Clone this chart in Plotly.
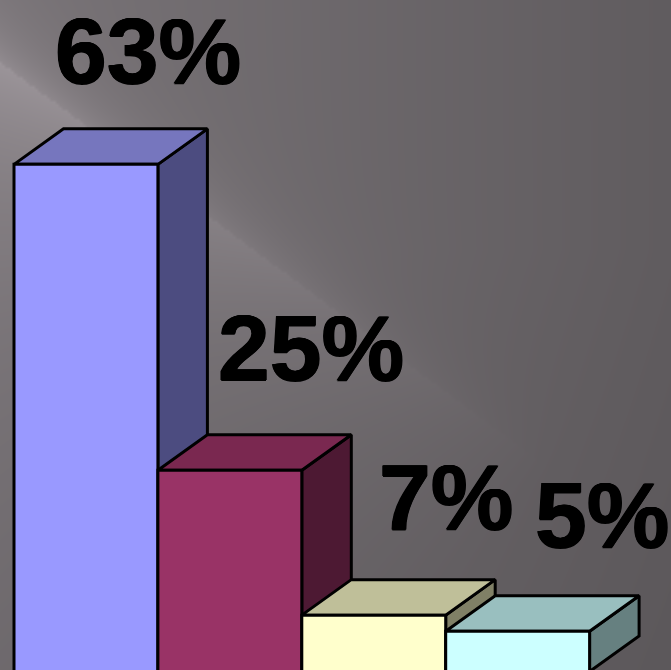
import numpy as np
import plotly.graph_objects as go

# Chart data
values = [63, 25, 7, 5]
labels = [f"{v}%" for v in values]
front_colors = ["#9999FF", "#993366", "#FFFFCC", "#CCFFFF"]
top_colors = ["#7676BE", "#7A2850", "#BFBF99", "#99BFBF"]
side_colors = ["#4C4C80", "#4D1933", "#808066", "#668080"]

W, H = 671, 670
BAR_PX = 143.9     # width of one category in pixels
UNIT_PX = 8.05     # height of one percent in pixels
LEFT_PX = 14.0     # left edge of first bar
BASE_PX = 671.5    # pixel row of the zero line, just below the page
DEPTH_X = 49.5 / BAR_PX
DEPTH_Y = 35.5 / UNIT_PX

# Label anchors on the page: centre x, vertical middle of the digits
label_x = [148, 311, 446, 602]
label_y = [51, 348, 497, 515]

# Backdrop: dark grey slide shading with a diagonal light streak
gx, gy = np.meshgrid(np.arange(0, W + 3, 3), np.arange(0, H + 3, 3))
base = 120 - 0.036 * gx - 0.025 * np.clip(gy - 250, 0, None) * (1 - gx / W * 0.6)
edge = 62 + 0.74 * gx
dist = (gy - edge) / 1.24
along = (gx + 0.74 * gy) / 1.24
strength = np.clip(1 - along / 720, 0, 1)
below = np.where(dist >= 0, np.exp(-dist / 110), np.exp(dist / 30) * 0.72)
lum = np.clip(base + 37 * strength * below, 0, 255)

fig = go.Figure()
fig.add_trace(go.Heatmap(
    x=gx[0], y=gy[:, 0], z=lum, zmin=0, zmax=255, zsmooth="best",
    colorscale=[[0, "rgb(0,0,0)"], [1, "rgb(255,244,252)"]],
    showscale=False, hoverinfo="skip", xaxis="x", yaxis="y",
))


def face(xs, ys, color):
    fig.add_trace(go.Scatter(
        x=xs, y=ys, mode="lines", fill="toself", fillcolor=color,
        line=dict(color="black", width=3), hoverinfo="skip",
        showlegend=False, xaxis="x2", yaxis="y2",
    ))


# Each bar: side, top, then front, left to right so later bars overlap earlier ones
for i, v in enumerate(values):
    x0, x1 = i - 0.5, i + 0.5
    face([x1, x1 + DEPTH_X, x1 + DEPTH_X, x1, x1],
         [0, DEPTH_Y, v + DEPTH_Y, v, 0], side_colors[i])
    face([x0, x0 + DEPTH_X, x1 + DEPTH_X, x1, x0],
         [v, v + DEPTH_Y, v + DEPTH_Y, v, v], top_colors[i])
    face([x0, x1, x1, x0, x0], [0, 0, v, v, 0], front_colors[i])

for text, lx, ly in zip(labels, label_x, label_y):
    fig.add_annotation(
        x=lx, y=ly, xref="x", yref="y", text=text, showarrow=False,
        xanchor="center", yanchor="middle", borderpad=0,
        font=dict(family="Liberation Sans", size=93, color="black", weight="bold",
                  shadow="0.7px 0 0 black, -0.7px 0 0 black, 0 0.5px 0 black, 0 -0.5px 0 black"),
    )

y_low = (BASE_PX - H) / UNIT_PX
fig.update_layout(
    width=W, height=H, margin=dict(l=0, r=0, t=0, b=0),
    paper_bgcolor="#625E63", plot_bgcolor="rgba(0,0,0,0)", showlegend=False,
    xaxis=dict(range=[0, W], visible=False, fixedrange=True),
    yaxis=dict(range=[H, 0], visible=False, fixedrange=True),
    xaxis2=dict(range=[-0.5 - LEFT_PX / BAR_PX, -0.5 + (W - LEFT_PX) / BAR_PX],
                overlaying="x", visible=False, fixedrange=True),
    yaxis2=dict(range=[y_low, y_low + H / UNIT_PX], overlaying="y",
                visible=False, fixedrange=True),
)

fig.write_html("out.html", config={"displayModeBar": False})
